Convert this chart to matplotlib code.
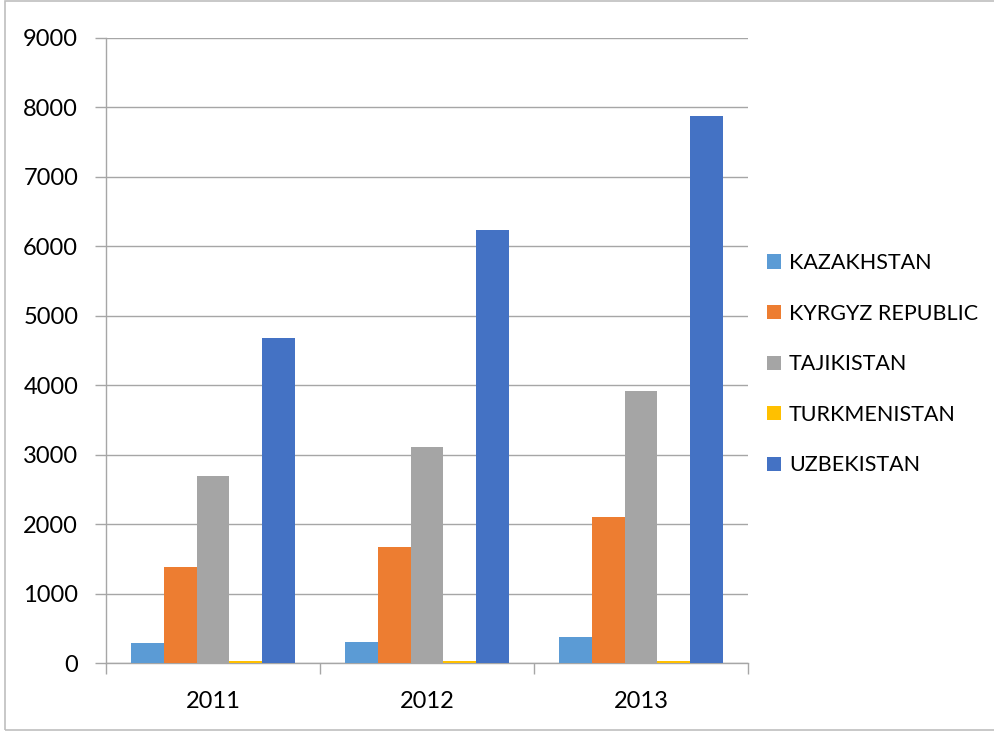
import numpy as np
import matplotlib.pyplot as plt
from matplotlib.patches import Rectangle

years = ['2011', '2012', '2013']
countries = ['KAZAKHSTAN', 'KYRGYZ REPUBLIC', 'TAJIKISTAN', 'TURKMENISTAN', 'UZBEKISTAN']
kazakhstan = [288, 300, 375]
kyrgyz = [1383, 1671, 2104]
tajikistan = [2694, 3112, 3919]
turkmenistan = [22, 24, 30]
uzbekistan = [4683, 6239, 7882]
colors = ['#5B9BD5', '#ED7D31', '#A5A5A5', '#FFC000', '#4472C4']

plt.rcParams['font.family'] = ['Lato', 'DejaVu Sans']

fig = plt.figure(figsize=(9.95, 7.31), dpi=100)
ax = fig.add_axes([106 / 995, 1 - 663 / 731, (748 - 106) / 995, (663 - 38) / 731])

series = [kazakhstan, kyrgyz, tajikistan, turkmenistan, uzbekistan]
x = np.arange(len(years))
w = 0.154
for i, vals in enumerate(series):
    ax.bar(x + (i - 2) * w, vals, w, color=colors[i], label=countries[i],
           linewidth=0, zorder=3)

ax.set_xlim(-0.5, 2.5)
ax.set_ylim(0, 9000)
ax.set_yticks(range(0, 9001, 1000))
ax.set_xticks(x)
ax.set_xticklabels(years)
ax.set_xticks([-0.5, 0.5, 1.5, 2.5], minor=True)
ax.tick_params(axis='x', which='major', length=0, pad=20, labelsize=17)
ax.tick_params(axis='x', which='minor', length=8, color='#A6A6A6', width=1)
ax.tick_params(axis='y', length=8, color='#A6A6A6', width=1, pad=12, labelsize=17)
ax.grid(axis='y', color='#A6A6A6', linewidth=1, zorder=0)
for s in ['top', 'right']:
    ax.spines[s].set_visible(False)
for s in ['left', 'bottom']:
    ax.spines[s].set_color('#A6A6A6')
    ax.spines[s].set_linewidth(1)

ax.legend(loc='center left', bbox_to_anchor=(1.0, 0.478), frameon=False,
          fontsize=15.5, handlelength=0.65, handleheight=0.65, handletextpad=0.35,
          labelspacing=1.42)

fig.patches.append(Rectangle((5 / 995, 1 / 731), 1.2, 1 - 2 / 731, transform=fig.transFigure,
                             fill=False, edgecolor='#BFBFBF', linewidth=1.2))

fig.savefig('out.png', dpi=100)
